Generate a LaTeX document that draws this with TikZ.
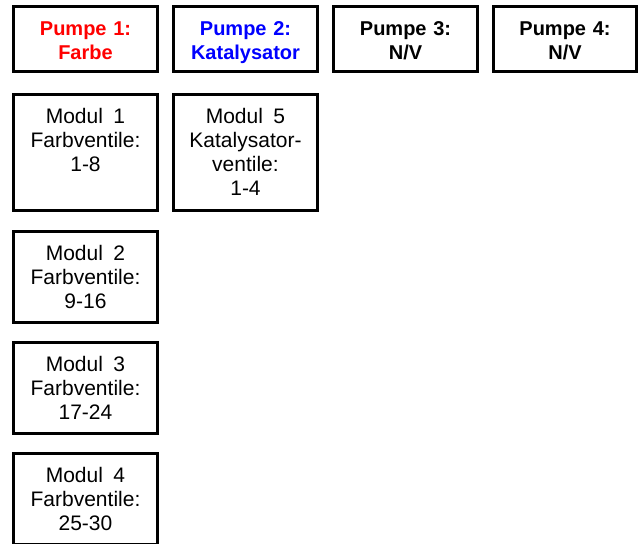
\documentclass[tikz,border=0pt]{standalone}
\usepackage{fontspec}
\setmainfont{Liberation Sans}
\definecolor{pred}{RGB}{255,0,0}
\definecolor{pblue}{RGB}{0,0,255}
\tikzset{
  box/.style={draw=black, line width=3pt, inner sep=0pt, outer sep=0pt, minimum width=144pt},
  pumpbox/.style={box, minimum height=65pt},
  modbox/.style={box},
  pumptext/.style={anchor=base, text width=150pt, align=center, inner sep=0pt, font=\fontsize{20}{24.5}\selectfont\bfseries},
  modtext/.style={anchor=base, text width=150pt, align=center, inner sep=0pt, font=\fontsize{21}{24}\selectfont},
}
\begin{document}
\begin{tikzpicture}[x=1pt,y=-1pt]
\useasboundingbox (0,0) rectangle (638,544);
% pump boxes
\node[pumpbox] (p1) at (85.5,39) {};
\node[pumpbox] (p2) at (245.5,39) {};
\node[pumpbox] (p3) at (405.5,39) {};
\node[pumpbox, minimum width=143pt] (p4) at (565,39) {};
\node[pumptext, text=pred] at ([yshift=-28.5pt]p1.north) {Pumpe 1:\\Farbe};
\node[pumptext, text=pblue] at ([yshift=-28.5pt]p2.north) {Pumpe 2:\\Katalysator};
\node[pumptext] at ([yshift=-28.5pt]p3.north) {Pumpe 3:\\N/V};
\node[pumptext] at ([yshift=-28.5pt]p4.north) {Pumpe 4:\\N/V};
% module boxes
\node[modbox, minimum height=116.5pt] (m1) at (85.5,152.25) {};
\node[modbox, minimum height=116.5pt] (m5) at (245.5,152.25) {};
\node[modbox, minimum height=91pt] (m2) at (85.5,277) {};
\node[modbox, minimum height=91pt] (m3) at (85.5,388) {};
\node[modbox, minimum height=91pt] (m4) at (85.5,499) {};
\node[modtext] at ([yshift=-29pt]m1.north) {Modul\ \,1\\Farbventile:\\1-8};
\node[modtext] at ([yshift=-29pt]m5.north) {Modul\ \,5\\Katalysator-\\ventile:\\1-4};
\node[modtext] at ([yshift=-29pt]m2.north) {Modul\ \,2\\Farbventile:\\9-16};
\node[modtext] at ([yshift=-29pt]m3.north) {Modul\ \,3\\Farbventile:\\17-24};
\node[modtext] at ([yshift=-29pt]m4.north) {Modul\ \,4\\Farbventile:\\25-30};
\end{tikzpicture}
\end{document}
